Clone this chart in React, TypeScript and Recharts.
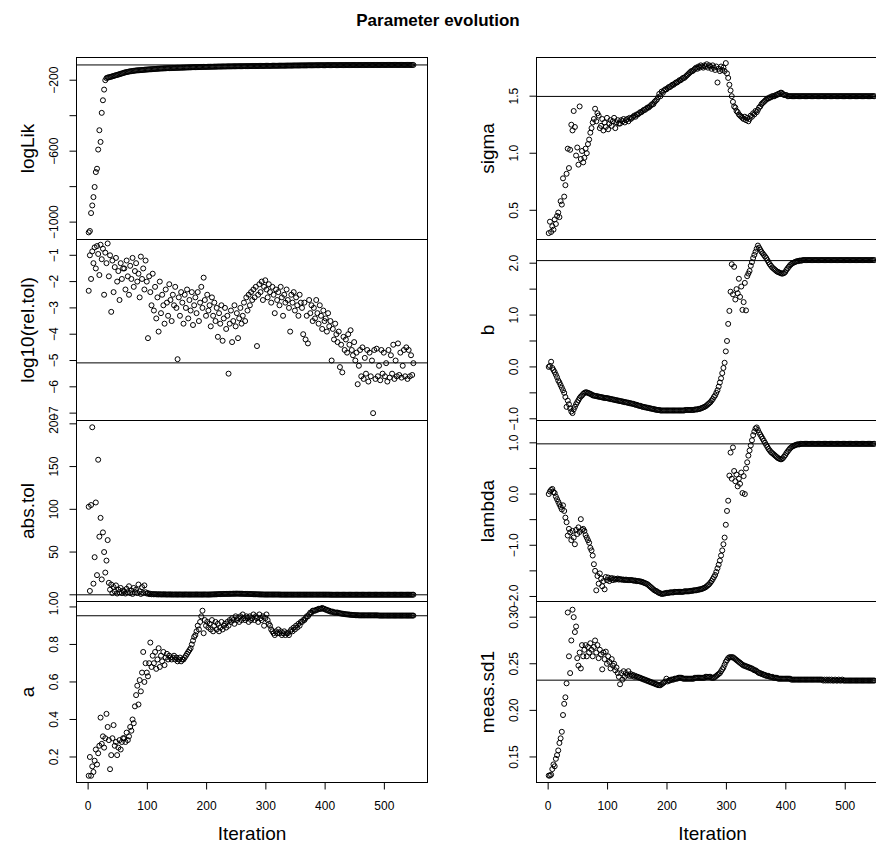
import React from "react";
import { ReferenceLine, Scatter, ScatterChart, XAxis, YAxis } from "recharts";

const FONT = '"Liberation Sans", Arial, Helvetica, sans-serif';

const iterations = [
  1, 3, 5, 7, 9, 11, 13, 15, 17, 19,
  21, 23, 25, 27, 29, 31, 33, 35, 37, 39,
  41, 43, 45, 47, 49, 51, 53, 55, 57, 59,
  61, 63, 65, 67, 69, 71, 73, 75, 77, 79,
  81, 83, 85, 87, 89, 91, 93, 95, 97, 99,
  101, 103, 105, 107, 109, 111, 113, 115, 117, 119,
  121, 123, 125, 127, 129, 131, 133, 135, 137, 139,
  141, 143, 145, 147, 149, 151, 153, 155, 157, 159,
  161, 163, 165, 167, 169, 171, 173, 175, 177, 179,
  181, 183, 185, 187, 189, 191, 193, 195, 197, 199,
  201, 203, 205, 207, 209, 211, 213, 215, 217, 219,
  221, 223, 225, 227, 229, 231, 233, 235, 237, 239,
  241, 243, 245, 247, 249, 251, 253, 255, 257, 259,
  261, 263, 265, 267, 269, 271, 273, 275, 277, 279,
  281, 283, 285, 287, 289, 291, 293, 295, 297, 299,
  301, 303, 305, 307, 309, 311, 313, 315, 317, 319,
  321, 323, 325, 327, 329, 331, 333, 335, 337, 339,
  341, 343, 345, 347, 349, 351, 353, 355, 357, 359,
  361, 363, 365, 367, 369, 371, 373, 375, 377, 379,
  381, 383, 385, 387, 389, 391, 393, 395, 397, 399,
  401, 403, 405, 407, 409, 411, 413, 415, 417, 419,
  421, 423, 425, 427, 429, 431, 433, 435, 437, 439,
  441, 443, 445, 447, 449, 451, 453, 455, 457, 459,
  461, 463, 465, 467, 469, 471, 473, 475, 477, 479,
  481, 483, 485, 487, 489, 491, 493, 495, 497, 499,
  501, 503, 505, 507, 509, 511, 513, 515, 517, 519,
  521, 523, 525, 527, 529, 531, 533, 535, 537, 539,
  541, 543, 545, 547, 549
];

const logLik = [
  -1058, -1050, -949, -906, -859, -802, -718, -699, -591, -482,
  -548, -384, -313, -253, -200, -188, -185, -184, -182, -180,
  -178, -176, -174, -172, -170, -168, -166, -164, -162, -160,
  -157, -156, -154, -153, -151, -150, -149, -148, -147, -146,
  -145, -144.5, -144, -143.5, -143, -142.5, -142, -141, -140.5, -140,
  -139.5, -139, -138.5, -138, -137.5, -137, -136.5, -136, -135.5, -135,
  -134.5, -134, -134, -133.5, -133, -133, -132.5, -132, -132, -131.5,
  -131.5, -131, -131, -130.5, -130.5, -130, -130, -129.5, -129.5, -129,
  -129, -128.5, -128.5, -128, -128, -127.5, -127.5, -127, -127, -126.5,
  -126.5, -126, -126, -126, -125.5, -125.5, -125.5, -125, -125, -125,
  -124.5, -124.5, -124.5, -124, -124, -124, -123.5, -123.5, -123.5, -123,
  -123, -123, -123, -122.5, -122.5, -122.5, -122.5, -122, -122, -122,
  -122, -122, -121.5, -121.5, -121.5, -121.5, -121.5, -121, -121, -121,
  -121, -121, -121, -120.5, -120.5, -120.5, -120.5, -120.5, -120, -120,
  -120, -120, -120, -120, -119.5, -119.5, -119.5, -119.5, -119.5, -119,
  -119, -119, -119, -119, -119, -118.5, -118.5, -118.5, -118.5, -118.5,
  -118.5, -118, -118, -118, -118, -118, -118, -117.5, -117.5, -117.5,
  -117.5, -117.5, -117.5, -117, -117, -117, -117, -117, -117, -116.5,
  -116.5, -116.5, -116.5, -116.5, -116.5, -116, -116, -116, -116, -116,
  -116, -116, -115.5, -115.5, -115.5, -115.5, -115.5, -115.5, -115.5, -115.5,
  -115.5, -115, -115, -115, -115, -115, -115, -115, -115, -115,
  -114.9, -114.9, -114.8, -114.8, -114.8, -114.8, -114.7, -114.7, -114.7, -114.7,
  -114.6, -114.6, -114.6, -114.6, -114.5, -114.5, -114.5, -114.5, -114.5, -114.5,
  -114.4, -114.4, -114.4, -114.4, -114.4, -114.3, -114.3, -114.3, -114.3, -114.3,
  -114.3, -114.2, -114.2, -114.2, -114.2, -114.2, -114.2, -114.1, -114.1, -114.1,
  -114.1, -114.1, -114.1, -114.1, -114, -114, -114, -114, -114, -114,
  -114, -114, -114, -114, -114, -114, -114, -114, -114, -114,
  -114, -114, -114, -114, -114
];

const log10RelTol = [
  -2.35, -1.0, -1.9, -0.85, -1.3, -0.7, -1.5, -0.65, -0.95, -1.75,
  -0.6, -1.15, -0.75, -2.5, -0.9, -1.3, -0.55, -1.8, -1.0, -3.15,
  -1.2, -2.4, -1.45, -1.1, -2.0, -1.6, -2.7, -1.3, -1.9, -1.5,
  -1.5, -2.3, -1.2, -1.8, -2.5, -1.4, -1.9, -1.1, -2.2, -1.6,
  -1.3, -2.0, -1.7, -2.6, -1.05, -1.9, -1.5, -2.3, -1.2, -2.0,
  -4.15, -1.8, -2.4, -2.9, -1.7, -3.1, -2.2, -3.4, -2.6, -3.9,
  -2.0, -3.2, -2.5, -2.9, -3.6, -2.3, -2.8, -3.3, -2.1, -2.7,
  -3.5, -2.5, -2.9, -2.2, -3.0, -4.95, -2.6, -3.3, -2.4, -2.8,
  -3.6, -2.5, -3.0, -2.3, -3.4, -2.7, -3.1, -2.4, -3.65, -2.9,
  -2.6, -3.2, -2.4, -3.5, -2.8, -2.2, -3.0, -1.85, -2.7, -3.3,
  -2.5, -3.1, -2.9, -3.7, -2.6, -3.3, -2.8, -3.5, -3.0, -4.1,
  -3.2, -3.6, -2.9, -4.25, -3.4, -3.0, -3.8, -3.3, -5.5, -3.6,
  -3.1, -4.3, -3.5, -2.9, -3.7, -3.2, -4.15, -3.4, -3.0, -3.6,
  -3.3, -2.8, -3.5, -2.6, -3.1, -2.5, -2.9, -2.4, -2.7, -2.3,
  -2.6, -2.2, -4.45, -2.5, -2.1, -2.4, -2.0, -2.7, -2.2, -1.95,
  -2.3, -2.6, -2.1, -2.4, -2.8, -2.2, -2.5, -3.2, -2.3, -2.7,
  -2.4, -2.9, -2.2, -2.6, -3.3, -2.5, -2.8, -2.3, -2.7, -3.0,
  -3.9, -2.5, -2.8, -2.4, -3.1, -2.6, -2.9, -3.3, -2.5, -2.8,
  -3.0, -4.0, -2.8, -4.2, -3.3, -4.35, -2.7, -3.2, -2.9, -3.5,
  -3.0, -3.4, -2.7, -3.2, -3.6, -2.9, -3.3, -3.8, -3.1, -3.5,
  -3.4, -3.9, -3.2, -3.7, -3.5, -5.0, -3.8, -4.2, -3.6, -4.0,
  -4.3, -3.9, -5.25, -4.4, -5.45, -4.1, -4.6, -4.2, -4.7, -4.0,
  -4.4, -3.85, -4.6, -4.8, -4.3, -5.0, -4.7, -5.9, -5.2, -4.6,
  -5.6, -4.5, -5.7, -4.9, -5.5, -4.6, -5.8, -4.7, -5.6, -5.0,
  -7.0, -4.6, -5.7, -4.55, -5.6, -5.2, -5.75, -4.6, -5.5, -4.7,
  -5.6, -5.1, -5.8, -4.6, -5.65, -4.8, -5.5, -4.4, -5.7, -5.0,
  -5.6, -4.35, -5.55, -4.7, -5.65, -5.2, -4.6, -5.6, -4.5, -5.7,
  -4.6, -5.6, -4.8, -5.55, -5.1
];

const absTol = [
  103, 4.5, 105, 196, 13, 44, 108, 23, 158, 68,
  90, 18, 73, 50, 26, 40, 64, 14, 6, 12,
  2, 9, 4, 11, 1.5, 6, 3, 8, 2, 5,
  4, 1.5, 7, 3, 10, 2, 5, 1, 8, 3,
  6, 2, 12, 4, 1, 9, 2, 11, 3, 1.5,
  2, 0.8, 1.2, 0.6, 0.9, 0.5, 0.8, 0.5, 0.6, 0.4,
  0.7, 0.3, 0.5, 0.4, 0.6, 0.3, 0.4, 0.3, 0.5, 0.3,
  0.4, 0.3, 0.3, 0.4, 0.3, 0.3, 0.3, 0.4, 0.3, 0.3,
  0.3, 0.3, 0.4, 0.3, 0.3, 0.3, 0.3, 0.3, 0.3, 0.3,
  0.3, 0.4, 0.3, 0.3, 0.3, 0.3, 0.3, 0.3, 0.4, 0.3,
  0.3, 0.3, 0.3, 0.4, 0.4, 0.5, 0.5, 0.6, 0.6, 0.7,
  0.8, 0.8, 0.9, 0.9, 1.0, 1.0, 1.1, 1.0, 1.0, 1.1,
  1.2, 1.2, 1.3, 1.2, 1.3, 1.4, 1.3, 1.3, 1.2, 1.2,
  1.2, 1.1, 1.1, 1.0, 1.0, 0.9, 0.9, 0.8, 0.8, 0.7,
  0.7, 0.6, 0.6, 0.5, 0.5, 0.4, 0.4, 0.4, 0.3, 0.3,
  0.3, 0.3, 0.3, 0.3, 0.3, 0.3, 0.3, 0.3, 0.3, 0.3,
  0.3, 0.3, 0.2, 0.2, 0.2, 0.2, 0.2, 0.2, 0.2, 0.2,
  0.2, 0.2, 0.2, 0.2, 0.2, 0.2, 0.2, 0.2, 0.2, 0.2,
  0.2, 0.2, 0.2, 0.2, 0.2, 0.2, 0.2, 0.2, 0.2, 0.2,
  0.2, 0.2, 0.2, 0.2, 0.2, 0.2, 0.2, 0.2, 0.2, 0.2,
  0.2, 0.2, 0.2, 0.2, 0.1, 0.1, 0.1, 0.1, 0.1, 0.1,
  0.1, 0.1, 0.1, 0.1, 0.1, 0.1, 0.1, 0.1, 0.1, 0.1,
  0.1, 0.1, 0.1, 0.1, 0.1, 0.1, 0.1, 0.1, 0.1, 0.1,
  0.1, 0.1, 0.1, 0.1, 0.1, 0.1, 0.1, 0.1, 0.1, 0.1,
  0.1, 0.1, 0.1, 0.1, 0.1, 0.1, 0.1, 0.1, 0.1, 0.1,
  0.1, 0.1, 0.1, 0.1, 0.1, 0.1, 0.1, 0.1, 0.1, 0.1,
  0.1, 0.1, 0.1, 0.1, 0.1, 0.1, 0.1, 0.1, 0.1, 0.1,
  0.1, 0.1, 0.1, 0.1, 0.1
];

const aParam = [
  0.10, 0.20, 0.10, 0.15, 0.12, 0.18, 0.24, 0.16, 0.22, 0.26,
  0.41, 0.27, 0.31, 0.25, 0.30, 0.43, 0.36, 0.29, 0.135, 0.21,
  0.30, 0.37, 0.26, 0.28, 0.21, 0.25, 0.29, 0.24, 0.28, 0.30,
  0.30, 0.28, 0.33, 0.29, 0.31, 0.36, 0.34, 0.40, 0.38, 0.47,
  0.53, 0.58, 0.48, 0.61, 0.55, 0.65, 0.76, 0.60, 0.70, 0.65,
  0.63, 0.70, 0.81, 0.68, 0.74, 0.70, 0.76, 0.67, 0.72, 0.78,
  0.68, 0.74, 0.71, 0.76, 0.69, 0.73, 0.75, 0.72, 0.74, 0.73,
  0.72, 0.73, 0.74, 0.72, 0.73, 0.71, 0.72, 0.73, 0.71, 0.72,
  0.72, 0.73, 0.74, 0.75, 0.76, 0.77, 0.78, 0.80, 0.82, 0.84,
  0.85, 0.87, 0.90, 0.88, 0.92, 0.95, 0.98, 0.86, 0.93, 0.90,
  0.92, 0.89, 0.91, 0.88, 0.93, 0.87, 0.90, 0.92, 0.88, 0.91,
  0.87, 0.89, 0.92, 0.88, 0.90, 0.91, 0.89, 0.92, 0.90, 0.93,
  0.92, 0.94, 0.93, 0.91, 0.95, 0.93, 0.94, 0.92, 0.95, 0.93,
  0.96, 0.94, 0.93, 0.95, 0.94, 0.92, 0.95, 0.93, 0.94, 0.96,
  0.93, 0.95, 0.94, 0.92, 0.96, 0.94, 0.93, 0.95, 0.90, 0.94,
  0.96, 0.93, 0.91, 0.90, 0.88, 0.87, 0.86, 0.85, 0.87, 0.86,
  0.88, 0.86, 0.87, 0.85, 0.86, 0.87, 0.85, 0.86, 0.86, 0.85,
  0.87, 0.88, 0.87, 0.89, 0.88, 0.90, 0.89, 0.91, 0.90, 0.92,
  0.92, 0.93, 0.93, 0.94, 0.95, 0.95, 0.96, 0.97, 0.97, 0.98,
  0.98, 0.98, 0.985, 0.985, 0.99, 0.99, 0.99, 0.995, 0.99, 0.99,
  0.985, 0.985, 0.98, 0.98, 0.975, 0.975, 0.975, 0.97, 0.97, 0.97,
  0.97, 0.968, 0.966, 0.965, 0.964, 0.963, 0.962, 0.961, 0.96, 0.96,
  0.959, 0.958, 0.958, 0.957, 0.957, 0.956, 0.956, 0.956, 0.955, 0.955,
  0.955, 0.955, 0.955, 0.955, 0.955, 0.955, 0.955, 0.955, 0.955, 0.955,
  0.955, 0.955, 0.955, 0.955, 0.955, 0.954, 0.954, 0.954, 0.954, 0.954,
  0.954, 0.954, 0.954, 0.954, 0.954, 0.954, 0.954, 0.954, 0.954, 0.954,
  0.954, 0.954, 0.954, 0.954, 0.954, 0.954, 0.954, 0.954, 0.954, 0.954,
  0.954, 0.954, 0.954, 0.954, 0.954
];

const sigma = [
  0.30, 0.40, 0.31, 0.36, 0.33, 0.42, 0.38, 0.45, 0.48, 0.44,
  0.58, 0.55, 0.78, 0.62, 0.72, 0.82, 1.04, 0.87, 1.03, 1.25,
  1.20, 1.37, 1.23, 0.98, 1.05, 0.90, 1.41, 0.95, 1.02, 0.92,
  0.96, 1.04, 1.00, 1.08, 1.12, 1.18, 1.22, 1.27, 1.30, 1.39,
  1.28, 1.35, 1.33, 1.22, 1.24, 1.30, 1.20, 1.27, 1.23, 1.31,
  1.21, 1.26, 1.29, 1.24, 1.28, 1.31, 1.22, 1.27, 1.29, 1.26,
  1.26, 1.29, 1.28, 1.30, 1.27, 1.29, 1.30, 1.28, 1.31, 1.30,
  1.31, 1.32, 1.33, 1.32, 1.34, 1.34, 1.35, 1.36, 1.36, 1.37,
  1.38, 1.38, 1.39, 1.40, 1.40, 1.41, 1.42, 1.43, 1.43, 1.45,
  1.46, 1.47, 1.49, 1.52, 1.50, 1.54, 1.53, 1.55, 1.56, 1.56,
  1.57, 1.58, 1.58, 1.59, 1.60, 1.60, 1.61, 1.62, 1.62, 1.63,
  1.64, 1.64, 1.65, 1.66, 1.66, 1.67, 1.68, 1.69, 1.70, 1.71,
  1.72, 1.72, 1.73, 1.74, 1.75, 1.74, 1.76, 1.75, 1.77, 1.76,
  1.75, 1.77, 1.76, 1.78, 1.75, 1.77, 1.76, 1.74, 1.77, 1.75,
  1.73, 1.76, 1.62, 1.74, 1.72, 1.76, 1.73, 1.75, 1.72, 1.79,
  1.70, 1.66, 1.60, 1.55, 1.50, 1.45, 1.41, 1.40, 1.37, 1.36,
  1.34, 1.33, 1.32, 1.31, 1.30, 1.32, 1.29, 1.31, 1.28, 1.30,
  1.33, 1.32, 1.35, 1.34, 1.37, 1.36, 1.38, 1.40, 1.41, 1.43,
  1.44, 1.45, 1.46, 1.47, 1.48, 1.48, 1.49, 1.49, 1.50, 1.50,
  1.50, 1.51, 1.51, 1.52, 1.52, 1.53, 1.53, 1.52, 1.51, 1.51,
  1.51, 1.50, 1.50, 1.50, 1.50, 1.50, 1.50, 1.50, 1.50, 1.50,
  1.50, 1.50, 1.50, 1.50, 1.50, 1.50, 1.50, 1.50, 1.50, 1.50,
  1.50, 1.50, 1.50, 1.50, 1.50, 1.50, 1.50, 1.50, 1.50, 1.50,
  1.50, 1.50, 1.50, 1.50, 1.50, 1.50, 1.50, 1.50, 1.50, 1.50,
  1.50, 1.50, 1.50, 1.50, 1.50, 1.50, 1.50, 1.50, 1.50, 1.50,
  1.50, 1.50, 1.50, 1.50, 1.50, 1.50, 1.50, 1.50, 1.50, 1.50,
  1.50, 1.50, 1.50, 1.50, 1.50, 1.50, 1.50, 1.50, 1.50, 1.50,
  1.50, 1.50, 1.50, 1.50, 1.50
];

const bParam = [
  0.00, 0.02, 0.10, -0.02, -0.06, -0.10, -0.15, -0.20, -0.26, -0.30,
  -0.35, -0.40, -0.45, -0.50, -0.58, -0.77, -0.65, -0.72, -0.80, -0.86,
  -0.89, -0.82, -0.77, -0.72, -0.68, -0.64, -0.60, -0.57, -0.55, -0.52,
  -0.50, -0.49, -0.49, -0.50, -0.51, -0.52, -0.53, -0.55, -0.55, -0.56,
  -0.56, -0.57, -0.57, -0.58, -0.58, -0.59, -0.59, -0.60, -0.60, -0.60,
  -0.61, -0.61, -0.62, -0.62, -0.63, -0.63, -0.64, -0.64, -0.65, -0.65,
  -0.66, -0.66, -0.67, -0.67, -0.68, -0.68, -0.69, -0.69, -0.70, -0.70,
  -0.71, -0.71, -0.72, -0.73, -0.73, -0.74, -0.75, -0.75, -0.76, -0.77,
  -0.77, -0.78, -0.78, -0.79, -0.79, -0.80, -0.80, -0.81, -0.81, -0.82,
  -0.82, -0.83, -0.83, -0.83, -0.84, -0.84, -0.84, -0.84, -0.84, -0.84,
  -0.84, -0.84, -0.84, -0.84, -0.84, -0.84, -0.84, -0.84, -0.84, -0.84,
  -0.84, -0.84, -0.84, -0.84, -0.84, -0.83, -0.83, -0.83, -0.83, -0.83,
  -0.83, -0.83, -0.83, -0.82, -0.82, -0.82, -0.81, -0.81, -0.80, -0.79,
  -0.78, -0.77, -0.76, -0.74, -0.72, -0.70, -0.68, -0.65, -0.62, -0.58,
  -0.55, -0.50, -0.45, -0.38, -0.30, -0.22, -0.12, -0.02, 0.08, 0.30,
  0.50, 0.83, 1.08, 1.45, 1.98, 1.40, 1.93, 1.30, 1.50, 1.42,
  1.70, 1.35, 1.55, 1.10, 1.25, 1.62, 1.09, 1.75, 1.80, 1.85,
  1.95, 2.02, 2.10, 2.16, 2.22, 2.28, 2.34, 2.30, 2.26, 2.22,
  2.19, 2.16, 2.13, 2.10, 2.06, 2.02, 1.98, 1.95, 1.92, 1.90,
  1.88, 1.86, 1.84, 1.83, 1.82, 1.81, 1.80, 1.80, 1.81, 1.83,
  1.87, 1.90, 1.93, 1.96, 1.98, 2.00, 2.01, 2.02, 2.03, 2.04,
  2.04, 2.05, 2.05, 2.05, 2.06, 2.06, 2.06, 2.06, 2.06, 2.06,
  2.06, 2.06, 2.06, 2.06, 2.06, 2.06, 2.06, 2.06, 2.06, 2.06,
  2.06, 2.06, 2.06, 2.06, 2.06, 2.06, 2.06, 2.06, 2.06, 2.06,
  2.06, 2.06, 2.06, 2.06, 2.06, 2.06, 2.06, 2.06, 2.06, 2.06,
  2.06, 2.06, 2.06, 2.06, 2.06, 2.06, 2.06, 2.06, 2.06, 2.06,
  2.06, 2.06, 2.06, 2.06, 2.06, 2.06, 2.06, 2.06, 2.06, 2.06,
  2.06, 2.06, 2.06, 2.06, 2.06
];

const lambda = [
  0.00, 0.05, 0.08, 0.10, 0.04, 0.02, -0.05, -0.10, -0.15, -0.20,
  -0.25, -0.30, -0.22, -0.33, -0.46, -0.55, -0.81, -0.68, -0.75, -0.90,
  -0.72, -0.85, -0.98, -0.70, -0.78, -0.65, -0.74, -0.49, -0.70, -0.68,
  -0.72, -0.80, -0.85, -0.90, -0.95, -1.05, -1.10, -1.20, -1.37, -1.50,
  -1.88, -1.60, -1.75, -1.55, -1.65, -1.80, -1.70, -1.86, -1.62, -1.68,
  -1.63, -1.70, -1.66, -1.64, -1.68, -1.65, -1.67, -1.66, -1.65, -1.67,
  -1.66, -1.67, -1.67, -1.67, -1.68, -1.67, -1.68, -1.68, -1.68, -1.68,
  -1.68, -1.69, -1.69, -1.69, -1.70, -1.70, -1.70, -1.71, -1.71, -1.72,
  -1.73, -1.74, -1.75, -1.76, -1.78, -1.80, -1.82, -1.84, -1.86, -1.88,
  -1.89, -1.90, -1.92, -1.93, -1.94, -1.95, -1.95, -1.94, -1.94, -1.93,
  -1.93, -1.93, -1.92, -1.92, -1.92, -1.92, -1.91, -1.91, -1.91, -1.91,
  -1.91, -1.91, -1.91, -1.91, -1.90, -1.90, -1.90, -1.90, -1.90, -1.89,
  -1.89, -1.89, -1.88, -1.88, -1.88, -1.87, -1.87, -1.86, -1.86, -1.85,
  -1.84, -1.83, -1.82, -1.80, -1.78, -1.76, -1.73, -1.70, -1.66, -1.62,
  -1.58, -1.52, -1.45, -1.38, -1.30, -1.20, -1.10, -0.98, -0.85, -0.60,
  -0.33, -0.13, 0.36, 0.81, 0.30, 0.91, 0.45, 0.25, 0.38, 0.15,
  0.30, 0.20, 0.42, 0.02, 0.35, 0.00, 0.50, 0.62, 0.75, 0.85,
  0.95, 1.05, 1.15, 1.22, 1.28, 1.30, 1.25, 1.20, 1.16, 1.12,
  1.08, 1.04, 1.00, 0.96, 0.92, 0.88, 0.85, 0.82, 0.80, 0.78,
  0.76, 0.74, 0.72, 0.70, 0.69, 0.68, 0.68, 0.70, 0.73, 0.76,
  0.80, 0.83, 0.86, 0.89, 0.91, 0.93, 0.94, 0.95, 0.96, 0.97,
  0.97, 0.97, 0.98, 0.98, 0.98, 0.98, 0.98, 0.98, 0.98, 0.98,
  0.98, 0.98, 0.98, 0.98, 0.98, 0.98, 0.98, 0.98, 0.98, 0.98,
  0.98, 0.98, 0.98, 0.98, 0.98, 0.98, 0.98, 0.98, 0.98, 0.98,
  0.98, 0.98, 0.98, 0.98, 0.98, 0.98, 0.98, 0.98, 0.98, 0.98,
  0.98, 0.98, 0.98, 0.98, 0.98, 0.98, 0.98, 0.98, 0.98, 0.98,
  0.98, 0.98, 0.98, 0.98, 0.98, 0.98, 0.98, 0.98, 0.98, 0.98,
  0.98, 0.98, 0.98, 0.98, 0.98
];

const measSd1 = [
  0.130, 0.130, 0.131, 0.137, 0.142, 0.140, 0.148, 0.152, 0.157, 0.165,
  0.170, 0.177, 0.195, 0.207, 0.214, 0.229, 0.305, 0.258, 0.240, 0.275,
  0.308, 0.300, 0.284, 0.290, 0.256, 0.248, 0.262, 0.245, 0.270, 0.258,
  0.265, 0.270, 0.258, 0.268, 0.262, 0.272, 0.265, 0.258, 0.268, 0.275,
  0.262, 0.270, 0.256, 0.265, 0.260, 0.244, 0.262, 0.255, 0.263, 0.250,
  0.258, 0.252, 0.245, 0.255, 0.248, 0.250, 0.243, 0.246, 0.240, 0.236,
  0.228, 0.240, 0.233, 0.242, 0.236, 0.240, 0.238, 0.242, 0.237, 0.239,
  0.237, 0.238, 0.236, 0.237, 0.236, 0.236, 0.235, 0.235, 0.234, 0.234,
  0.233, 0.233, 0.232, 0.232, 0.231, 0.231, 0.230, 0.230, 0.229, 0.229,
  0.228, 0.228, 0.227, 0.227, 0.227, 0.228, 0.229, 0.230, 0.231, 0.234,
  0.231, 0.232, 0.232, 0.233, 0.233, 0.233, 0.234, 0.234, 0.234, 0.235,
  0.235, 0.235, 0.235, 0.234, 0.234, 0.234, 0.234, 0.234, 0.234, 0.234,
  0.234, 0.234, 0.234, 0.235, 0.235, 0.235, 0.235, 0.235, 0.235, 0.235,
  0.235, 0.235, 0.236, 0.236, 0.236, 0.236, 0.236, 0.235, 0.235, 0.235,
  0.236, 0.237, 0.238, 0.239, 0.240, 0.242, 0.244, 0.246, 0.249, 0.252,
  0.254, 0.256, 0.257, 0.257, 0.257, 0.257, 0.256, 0.255, 0.254, 0.253,
  0.252, 0.251, 0.250, 0.249, 0.248, 0.248, 0.247, 0.247, 0.246, 0.246,
  0.245, 0.245, 0.244, 0.243, 0.243, 0.242, 0.241, 0.240, 0.240, 0.239,
  0.239, 0.238, 0.238, 0.237, 0.237, 0.237, 0.236, 0.236, 0.236, 0.235,
  0.235, 0.235, 0.235, 0.234, 0.234, 0.234, 0.234, 0.234, 0.234, 0.234,
  0.234, 0.234, 0.234, 0.234, 0.233, 0.233, 0.233, 0.233, 0.233, 0.233,
  0.233, 0.233, 0.233, 0.233, 0.233, 0.233, 0.233, 0.233, 0.233, 0.233,
  0.233, 0.233, 0.233, 0.233, 0.233, 0.233, 0.233, 0.233, 0.233, 0.233,
  0.233, 0.232, 0.233, 0.232, 0.233, 0.232, 0.233, 0.232, 0.233, 0.232,
  0.232, 0.233, 0.232, 0.232, 0.233, 0.232, 0.232, 0.233, 0.232, 0.232,
  0.232, 0.232, 0.232, 0.232, 0.232, 0.232, 0.232, 0.232, 0.232, 0.232,
  0.232, 0.232, 0.232, 0.232, 0.232, 0.232, 0.232, 0.232, 0.232, 0.232,
  0.232, 0.232, 0.232, 0.232, 0.232
];

// final estimates, drawn as horizontal lines
const finalValues = [-114, -5.09, 0, 0.953, 1.498, 2.05, 0.98, 0.2324];

const panelNames = ["logLik", "log10(rel.tol)", "abs.tol", "a", "sigma", "b", "lambda", "meas.sd1"];

const yDomains: [number, number][] = [
  [-1098, -72],
  [-7.28, -0.4],
  [-7.84, 203.9],
  [0.064, 1.029],
  [0.244, 1.839],
  [-1.033, 2.457],
  [-2.098, 1.436],
  [0.1226, 0.3168]
];

const yTicks = [
  [-1000, -800, -600, -400, -200],
  [-7, -6, -5, -4, -3, -2, -1],
  [0, 50, 100, 150, 200],
  [0.2, 0.4, 0.6, 0.8, 1.0],
  [0.5, 1.0, 1.5],
  [-1, -0.5, 0, 0.5, 1, 1.5, 2],
  [-2, -1.5, -1, -0.5, 0, 0.5, 1],
  [0.15, 0.2, 0.25, 0.3]
];

const yTickLabels = [
  ["\u22121000", "", "\u2212600", "", "\u2212200"],
  ["\u22127", "\u22126", "\u22125", "\u22124", "\u22123", "\u22122", "\u22121"],
  ["0", "50", "100", "150", "200"],
  ["0.2", "0.4", "0.6", "0.8", "1.0"],
  ["0.5", "1.0", "1.5"],
  ["\u22121.0", "", "0.0", "", "1.0", "", "2.0"],
  ["\u22122.0", "", "\u22121.0", "", "0.0", "", "1.0"],
  ["0.15", "0.20", "0.25", "0.30"]
];

const xDomain: [number, number] = [-19.6, 572.8];
const xTicks = [0, 100, 200, 300, 400, 500];

const seriesValues = [logLik, log10RelTol, absTol, aParam, sigma, bParam, lambda, measSd1];

// layout of the 4x2 grid (pixels)
const COL_LEFT = [76.5, 536.5];
const COL_RIGHT = [427.5, 888.5];
const ROW_TOP = [57.5, 239.5, 420.5, 601.5];
const ROW_BOTTOM = [239.5, 420.5, 601.5, 782.5];
const CHART_W = 920;
const CHART_H = 846;
const AXIS_W = 60;
const XAXIS_H = 40;

const ring = (props: any) => (
  <circle cx={props.cx} cy={props.cy} r={2.5} fill="none" stroke="#000" strokeWidth={1} />
);

function Panel({ index }: { index: number }) {
  const col = index < 4 ? 0 : 1;
  const row = index % 4;
  const isBottom = row === 3;
  const values = seriesValues[index];
  const data = iterations.map((x, i) => ({ x, y: values[i] }));
  const ticks = yTicks[index];
  const labels = yTickLabels[index];
  const left = COL_LEFT[col];
  const labelX = left - 22.7;

  const yTick = (props: any) => {
    const i = ticks.indexOf(props.payload.value);
    const label = i >= 0 ? labels[i] : "";
    if (!label) return <g />;
    return (
      <text
        x={labelX}
        y={props.y}
        transform={`rotate(-90, ${labelX}, ${props.y})`}
        textAnchor="middle"
        dominantBaseline="central"
        fontSize={12}
        fontFamily={FONT}
        fill="#000"
      >
        {label}
      </text>
    );
  };

  const xTick = (props: any) => (
    <text
      x={props.x}
      y={806}
      textAnchor="middle"
      dominantBaseline="central"
      fontSize={12}
      fontFamily={FONT}
      fill="#000"
    >
      {props.payload.value}
    </text>
  );

  return (
    <div style={{ position: "absolute", left: 0, top: 0 }}>
      <ScatterChart
        width={CHART_W}
        height={CHART_H}
        margin={{
          top: ROW_TOP[row],
          left: left - AXIS_W,
          right: CHART_W - COL_RIGHT[col],
          bottom: CHART_H - ROW_BOTTOM[row] - (isBottom ? XAXIS_H : 0)
        }}
      >
        <XAxis
          type="number"
          dataKey="x"
          domain={xDomain}
          allowDataOverflow
          hide={!isBottom}
          ticks={xTicks}
          interval={0}
          height={XAXIS_H}
          axisLine={false}
          tickLine={{ stroke: "#000" }}
          tickSize={7}
          tickMargin={0}
          tick={xTick}
        />
        <YAxis
          type="number"
          dataKey="y"
          domain={yDomains[index]}
          allowDataOverflow
          ticks={ticks}
          interval={0}
          width={AXIS_W}
          axisLine={false}
          tickLine={{ stroke: "#000" }}
          tickSize={7}
          tickMargin={0}
          tick={yTick}
        />
        <Scatter data={data} shape={ring} isAnimationActive={false} />
        <ReferenceLine y={finalValues[index]} stroke="#000" strokeWidth={1} />
      </ScatterChart>
    </div>
  );
}

export default function App() {
  return (
    <div
      style={{
        position: "fixed",
        left: 0,
        top: 0,
        width: 876,
        height: 846,
        overflow: "hidden",
        background: "#fff",
        fontFamily: FONT
      }}
    >
      {panelNames.map((_, i) => (
        <Panel key={i} index={i} />
      ))}
      <svg
        width={CHART_W}
        height={CHART_H}
        style={{ position: "absolute", left: 0, top: 0, pointerEvents: "none" }}
      >
        <text x={438} y={20} textAnchor="middle" dominantBaseline="central" fontSize={17} fontWeight="bold" fontFamily={FONT}>
          Parameter evolution
        </text>
        {panelNames.map((name, i) => {
          const col = i < 4 ? 0 : 1;
          const row = i % 4;
          const cx = COL_LEFT[col] - 49.5;
          const cy = (ROW_TOP[row] + ROW_BOTTOM[row]) / 2;
          return (
            <g key={name}>
              <rect
                x={COL_LEFT[col]}
                y={ROW_TOP[row]}
                width={COL_RIGHT[col] - COL_LEFT[col]}
                height={ROW_BOTTOM[row] - ROW_TOP[row]}
                fill="none"
                stroke="#000"
                strokeWidth={1}
              />
              <text
                x={cx}
                y={cy}
                transform={`rotate(-90, ${cx}, ${cy})`}
                textAnchor="middle"
                dominantBaseline="central"
                fontSize={19}
                fontFamily={FONT}
              >
                {name}
              </text>
            </g>
          );
        })}
        {[0, 1].map((col) => (
          <text
            key={col}
            x={(COL_LEFT[col] + COL_RIGHT[col]) / 2}
            y={833}
            textAnchor="middle"
            dominantBaseline="central"
            fontSize={19}
            fontFamily={FONT}
          >
            Iteration
          </text>
        ))}
      </svg>
    </div>
  );
}
